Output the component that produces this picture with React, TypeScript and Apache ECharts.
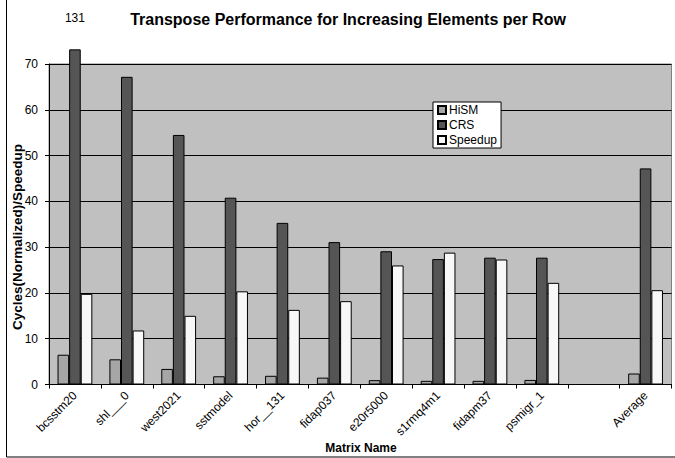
import React, { useEffect, useRef } from "react";
import * as echarts from "echarts";

const categories = [
  "bcsstm20", "shl___0", "west2021", "sstmodel", "hor__131", "fidap037",
  "e20r5000", "s1rmq4m1", "fidapm37", "psmigr_1", "", "Average",
];
const hism = [6.5, 5.5, 3.4, 1.8, 1.9, 1.5, 0.95, 0.8, 0.8, 1.0, null, 2.4];
const crs = [131, 67.2, 54.5, 40.8, 35.3, 31.1, 29.1, 27.4, 27.7, 27.7, null, 47.2];
const speedup = [19.8, 11.8, 15.0, 20.35, 16.3, 18.2, 26.0, 28.8, 27.3, 22.2, null, 20.6];
// value at which off-scale bars are drawn (broken bar), real value shown as label
const brokenBarTop = 73.2;
const yTicks = { min: 0, max: 70, interval: 10 };

const FONT = "'Liberation Sans', Arial, Helvetica, sans-serif";

export default function App() {
  const ref = useRef<HTMLDivElement>(null);
  useEffect(() => {
    if (!ref.current) return;
    const chart = echarts.init(ref.current, undefined, { renderer: "svg" });
    const barStyle = (color: string) => ({ color, borderColor: "#000", borderWidth: 1 });
    const crsData = crs.map((v) =>
      v !== null && v > yTicks.max
        ? {
            value: brokenBarTop,
            label: {
              show: true,
              position: "top",
              distance: 25,
              formatter: String(v),
              fontSize: 12,
              color: "#000",
              fontFamily: FONT,
            },
          }
        : v
    );
    chart.setOption({
      animation: false,
      textStyle: { fontFamily: FONT },
      grid: {
        left: 49,
        right: 3.5,
        top: 64,
        bottom: 73.5,
        show: true,
        backgroundColor: "#c0c0c0",
        borderColor: "#808080",
        borderWidth: 1,
        containLabel: false,
        outerBoundsMode: "none",
      },
      legend: {
        orient: "vertical",
        left: 433,
        top: 102,
        backgroundColor: "#fff",
        borderColor: "#000",
        borderWidth: 1,
        padding: [2, 4, 2, 4],
        itemGap: 3,
        itemWidth: 8,
        itemHeight: 8,
        icon: "rect",
        textStyle: { fontSize: 12, color: "#000", fontFamily: FONT, padding: [0, 0, 0, -2] },
        data: ["HiSM", "CRS", "Speedup"],
      },
      xAxis: {
        type: "category",
        data: categories,
        axisLine: { lineStyle: { color: "#000", width: 1 } },
        axisTick: { show: true, length: 4, lineStyle: { color: "#000" } },
        axisLabel: { rotate: 45, fontSize: 12, color: "#000", margin: 9, interval: 0, fontFamily: FONT },
        splitLine: { show: false },
      },
      yAxis: {
        type: "value",
        min: yTicks.min,
        max: yTicks.max,
        interval: yTicks.interval,
        axisLine: { show: true, lineStyle: { color: "#000", width: 1 } },
        axisTick: { show: true, length: 4, lineStyle: { color: "#000" } },
        axisLabel: { fontSize: 12, color: "#000", margin: 11, fontFamily: FONT },
        splitLine: { show: true, lineStyle: { color: "#000", width: 1 } },
      },
      series: [
        { name: "HiSM", type: "bar", data: hism, barWidth: 11.6, barGap: "0%", itemStyle: barStyle("#a6a6a6") },
        { name: "CRS", type: "bar", data: crsData, barWidth: 11.6, barGap: "0%", clip: false, itemStyle: barStyle("#555555") },
        { name: "Speedup", type: "bar", data: speedup, barWidth: 11.6, barGap: "0%", itemStyle: barStyle("#f8f8f8") },
      ],
      graphic: [
        {
          type: "rect",
          shape: { x: 6.5, y: -10, width: 700, height: 467 },
          style: { fill: "none", stroke: "#000", lineWidth: 1 },
          silent: true,
        },
        {
          type: "text",
          x: 348,
          y: 19,
          style: {
            text: "Transpose Performance for Increasing Elements per Row",
            font: `bold 16px ${FONT}`,
            fill: "#000",
            textAlign: "center",
            textVerticalAlign: "middle",
          },
        },
        {
          type: "text",
          x: 17,
          y: 237,
          rotation: Math.PI / 2,
          style: {
            text: "Cycles(Normalized)/Speedup",
            font: `bold 13.5px ${FONT}`,
            fill: "#000",
            textAlign: "center",
            textVerticalAlign: "middle",
          },
        },
        {
          type: "text",
          x: 361,
          y: 448,
          style: {
            text: "Matrix Name",
            font: `bold 12px ${FONT}`,
            fill: "#000",
            textAlign: "center",
            textVerticalAlign: "middle",
          },
        },
      ],
    });
    return () => chart.dispose();
  }, []);
  return (
    <div
      ref={ref}
      style={{ position: "fixed", left: 0, top: 0, width: 675, height: 458, background: "#fff" }}
    />
  );
}
